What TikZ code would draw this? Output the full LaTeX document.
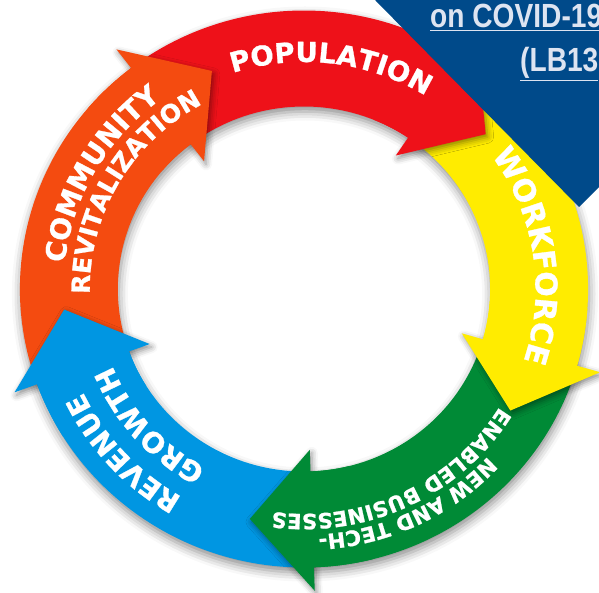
\documentclass[tikz,border=0pt]{standalone}
\usepackage{fontspec}
\usetikzlibrary{decorations.text,shadows.blur}
\newfontfamily\ringfont{DejaVu Sans}[BoldFeatures={FakeBold=1}]
\newfontfamily\condfont[FakeStretch=0.84]{Liberation Sans}
\definecolor{segred}{HTML}{EE1119}
\definecolor{segyellow}{HTML}{FFEC00}
\definecolor{seggreen}{HTML}{008A36}
\definecolor{segblue}{HTML}{0096E2}
\definecolor{segorange}{HTML}{F44B10}
\definecolor{navy}{HTML}{004A8A}
\definecolor{covtext}{HTML}{DDE4F1}
\def\Ro{278.5}
\def\Ri{182.5}
\tikzset{
  ringshadow/.style={blur shadow={shadow xshift=1pt, shadow yshift=-5pt, shadow blur radius=9pt, shadow opacity=45}},
  headshadow/.style={blur shadow={shadow xshift=2pt, shadow yshift=-3pt, shadow blur radius=6pt, shadow opacity=45}},
  covstyle/.style={anchor=base west, inner sep=0, text=covtext, font=\condfont\bfseries\fontsize{33.5}{36}\selectfont},
}
\newcommand\RingBody[3]{\fill[#1] (#2:\Ro) arc[start angle=#2, end angle={#3-0.5}, radius=\Ro] -- ({#3-0.5}:\Ri) arc[start angle={#3-0.5}, end angle=#2, radius=\Ri] -- cycle;}
\newcommand\RingHead[2]{%
  \path[headshadow] (#2:161) -- (#2:302) -- ({#2-15}:236) -- cycle;
  \fill[#1] ({#2+12}:\Ro) arc[start angle={#2+12}, end angle={#2-0.5}, radius=\Ro] -- ({#2-0.5}:\Ri) arc[start angle={#2-0.5}, end angle={#2+12}, radius=\Ri] -- cycle;
  \fill[#1] (#2:161) -- (#2:302) -- ({#2-15}:236) -- cycle;}
\newcommand\ArcText[4]{\path[decorate, decoration={text along path, text align=center,
      text={|\ringfont\bfseries\fontsize{#1}{#1}\selectfont\color{white}|#2}}]
      ({#3+70}:#4) arc[start angle={#3+70}, end angle={#3-70}, radius=#4];}
\begin{document}
\begin{tikzpicture}[x=1pt,y=1pt]
\useasboundingbox (0,0) rectangle (599,592);
\clip (0,0) rectangle (599,592);
\begin{scope}[shift={(304,303)}, xscale=1.02]
  % shadow of the whole ring
  \path[ringshadow] (0:\Ro) arc[start angle=0, end angle=360, radius=\Ro] -- (0:\Ri) arc[start angle=360, end angle=0, radius=\Ri] -- cycle;
  % bodies
  \RingBody{segred}{127.5}{56}
  \RingBody{segyellow}{56}{-16}
  \RingBody{seggreen}{-16}{-88}
  \RingBody{segblue}{-88}{-160}
  \RingBody{segorange}{200}{127.5}
  % heads
  \RingHead{segred}{56}
  \RingHead{segyellow}{-16}
  \RingHead{seggreen}{-88}
  \RingHead{segblue}{200}
  \RingHead{segorange}{127.5}
  % labels
  \ArcText{27.5}{POPULATION}{83}{227}
  \ArcText{30}{WORKFORCE}{8.6}{227}
  \ArcText{21}{NEW AND TECH-}{-64.5}{246}
  \ArcText{21}{ENABLED BUSINESSES}{-64.5}{225}
  \ArcText{28}{REVENUE}{-137.7}{240}
  \ArcText{28}{GROWTH}{-138.5}{203}
  \ArcText{28}{COMMUNITY}{150.4}{236}
  \ArcText{25}{REVITALIZATION}{150.1}{210}
\end{scope}
\fill[navy] (375,592) -- (579,385) -- (599,405) -- (599,592) -- cycle;
\node[covstyle] (cov1) at (430,564) {\underline{on COVID-19}};
\node[covstyle] (cov2) at (520,520) {\underline{(LB13}};
\end{tikzpicture}
\end{document}
